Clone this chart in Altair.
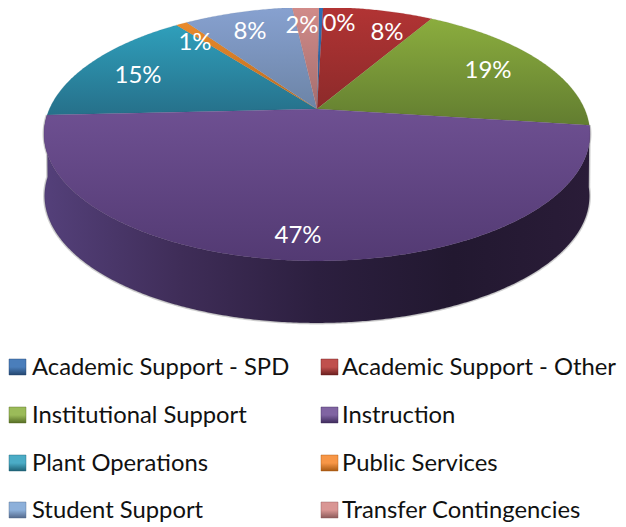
import math
import altair as alt
import pandas as pd

# ---- data
categories = ["Academic Support - SPD", "Academic Support - Other", "Institutional Support",
              "Instruction", "Plant Operations", "Public Services", "Student Support",
              "Transfer Contingencies"]
shares = [0.3, 7.9, 18.7, 47.1, 15.4, 0.8, 7.8, 1.9]
share_labels = ["0%", "8%", "19%", "47%", "15%", "1%", "8%", "2%"]

# ---- styles (top-of-gradient, bottom-of-gradient)
top_colors = ["#2f70b5", "#b23434", "#8bad3e", "#6e5092", "#2f9fbb", "#ea8a2c", "#87a1d0", "#d18b89"]
low_colors = ["#2a5f98", "#8c2a2a", "#627d30", "#533a73", "#26708a", "#b86a20", "#6c84a6", "#a56e6e"]
legend_light = ["#4a7ebb", "#c0504d", "#9bbb59", "#8064a2", "#4bacc6", "#f79646", "#8db0da", "#d99694"]
legend_dark = ["#24466f", "#6b1f1f", "#566d25", "#3e2b5c", "#1f6276", "#a85a12", "#54698c", "#8c5a5a"]

# ---- layout in page pixels
CX, CY, A, B, K = 317.0, 109.0, 267.6, 122.0, -0.197
DEPTH, SHRINK = 62.0, 0.998
START_DEG = 0.5
PAGE = 8
label_pos = [(339, 24), (387, 33), (488, 71), (298, 236), (138, 76), (195, 43), (250, 32), (302, 26)]
legend_rows = [368, 416, 464, 511]
legend_cols = [(9, 32), (321, 342)]
SQUARE = 17


def rim(theta, lower=False):
    t = math.radians(theta)
    u, v = math.sin(t), -math.cos(t)
    d = 1 + K * v
    x, y = A * u / d, B * v / d
    if lower:
        return [CX + x * SHRINK, CY + y + DEPTH]
    return [CX + x, CY + y]


def arc(a, b, lower=False):
    n = max(2, int(abs(b - a) / 0.5))
    return [rim(a + (b - a) * i / n, lower) for i in range(n + 1)]


def poly(points):
    points = points + [points[0]]
    return {"type": "Feature", "properties": {},
            "geometry": {"type": "Polygon", "coordinates": [points]}}


def vgrad(stops):
    n = len(stops) - 1
    return alt.Gradient(gradient="linear", x1=0, x2=0, y1=0, y2=1,
                        stops=[alt.GradientStop(offset=i / n, color=c) for i, c in enumerate(stops)])


def hgrad(stops):
    n = len(stops) - 1
    return alt.Gradient(gradient="linear", x1=0, x2=1, y1=0, y2=0,
                        stops=[alt.GradientStop(offset=i / n, color=c) for i, c in enumerate(stops)])


# slice angles from the shares
edges = [START_DEG]
total = sum(shares)
for s in shares:
    edges.append(edges[-1] + 360 * s / total)

proj = dict(type="identity", scale=1, translate=[-PAGE, -PAGE])
layers = []


def shape(feature, **mark):
    return alt.Chart(alt.Data(values=[feature])).mark_geoshape(**mark).project(**proj)


# the wall under the Instruction slice
i_wall = categories.index("Instruction")
a0, a1 = edges[i_wall], edges[i_wall + 1]
wall = poly(arc(a0, a1) + arc(a1, a0, lower=True))
layers.append(shape(poly(arc(a0, a1) + arc(a1, a0, lower=True)), fill="#000000", fillOpacity=0,
                    stroke="#777777", strokeWidth=3, strokeOpacity=0.35))
layers.append(shape(wall, fill=hgrad(["#54407a", "#3f2d58", "#2c1f3f", "#221830", "#2a1c38"]), stroke="#2a1c3a",
                    strokeWidth=0.4, strokeOpacity=0.5))

# top faces; Instruction last
order = [i for i in range(len(shares)) if i != i_wall] + [i_wall]
for i in order:
    pts = [[CX, CY]] + arc(edges[i], edges[i + 1])
    layers.append(shape(poly(pts), fill=vgrad([top_colors[i], low_colors[i]]), stroke=low_colors[i],
                        strokeWidth=0.3, strokeOpacity=0.6))

# percent labels
labels = pd.DataFrame({"lon": [p[0] for p in label_pos], "lat": [p[1] for p in label_pos], "t": share_labels})
layers.append(alt.Chart(labels).mark_text(font="Lato", fontSize=24, color="#ffffff", baseline="middle",
                                          align="center").encode(
    longitude="lon:Q", latitude="lat:Q", text="t:N").project(**proj))

# legend
rows = []
for i, name in enumerate(categories):
    sx, tx = legend_cols[i % 2]
    ry = legend_rows[i // 2]
    layers.append(shape(poly([[sx, ry - 9], [sx + SQUARE, ry - 9], [sx + SQUARE, ry + 7], [sx, ry + 7]]),
                        fill=vgrad([legend_light[i], legend_light[i], legend_dark[i]]),
                        stroke=legend_dark[i], strokeWidth=0.6, strokeOpacity=0.7))
    rows.append({"lon": tx, "lat": ry, "t": name})
layers.append(alt.Chart(pd.DataFrame(rows)).mark_text(font="Lato", fontSize=23.8, color="#111111", baseline="middle",
                                                      align="left").encode(
    longitude="lon:Q", latitude="lat:Q", text="t:N").project(**proj))

chart = alt.layer(*layers).properties(width=610, height=516, padding=0, background="#ffffff",
                                      autosize=alt.AutoSizeParams(type="none")).configure_view(stroke=None)
chart.save("out.html", embed_options={"renderer": "svg", "actions": False})
